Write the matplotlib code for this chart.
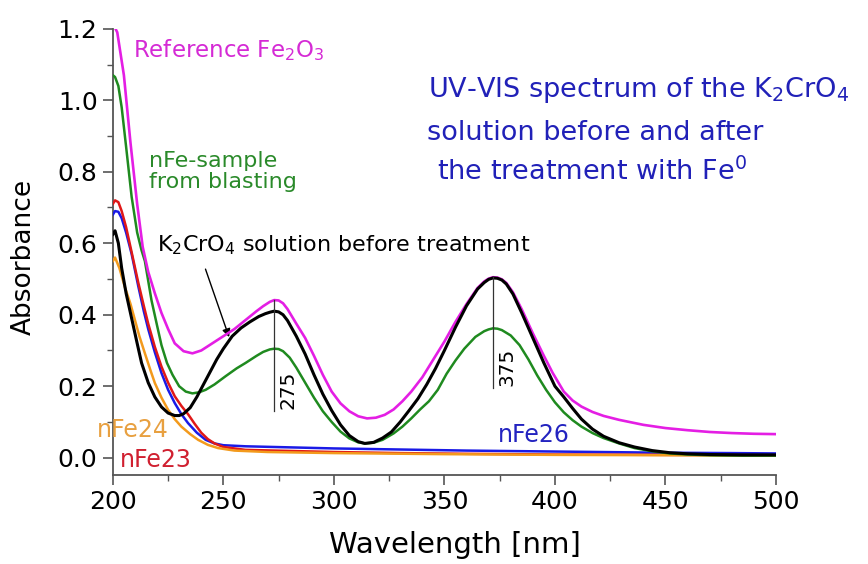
import matplotlib
matplotlib.use("Agg")
import matplotlib.pyplot as plt
from matplotlib.ticker import MultipleLocator

# ---------------- data ----------------
ref_wl = [200, 202, 205, 208, 211, 213.5, 216, 219, 222, 225, 228, 232, 236, 240, 245, 250, 255,
          260, 265, 268, 271, 273, 275, 277, 279, 283, 287, 291, 295, 299, 303, 307, 311, 315, 319,
          323, 327, 331, 335, 340, 345, 350, 355, 360, 365, 368, 370, 372, 374, 376, 378, 381, 385,
          390, 395, 399, 404, 408, 412, 417, 422, 429, 440, 450, 460, 470, 480, 490, 500]
ref_abs = [1.215, 1.19, 1.07, 0.88, 0.71, 0.59, 0.52, 0.46, 0.405, 0.36, 0.32, 0.298, 0.292, 0.30,
           0.32, 0.34, 0.36, 0.385, 0.41, 0.424, 0.436, 0.441, 0.440, 0.432, 0.416, 0.375, 0.335,
           0.285, 0.232, 0.185, 0.152, 0.13, 0.116, 0.11, 0.112, 0.12, 0.135, 0.158, 0.185, 0.225,
           0.275, 0.325, 0.38, 0.43, 0.475, 0.493, 0.501, 0.505, 0.504, 0.499, 0.489, 0.463, 0.415,
           0.348, 0.285, 0.237, 0.185, 0.16, 0.143, 0.128, 0.117, 0.106, 0.092, 0.083, 0.077,
           0.072, 0.069, 0.067, 0.066]

k2_wl = [200, 201, 202.5, 204, 206, 208.5, 211, 213, 216, 219, 222, 225, 228, 230, 232, 235, 238,
         241, 244, 247, 250, 254, 258, 262, 266, 269, 271, 273, 275, 277, 279, 283, 287, 291, 295,
         299, 303, 307, 311, 314, 318, 322, 326, 330, 334, 338, 342, 346, 350, 355, 360, 365, 368,
         370, 372, 374, 376, 378, 381, 385, 390, 395, 400, 404, 408, 412, 417, 422, 429, 436, 444,
         452, 460, 470, 485, 500]
k2_abs = [0.625, 0.635, 0.60, 0.53, 0.46, 0.39, 0.32, 0.265, 0.21, 0.17, 0.142, 0.125, 0.118, 0.118,
          0.123, 0.14, 0.17, 0.205, 0.24, 0.275, 0.305, 0.34, 0.363, 0.38, 0.395, 0.403, 0.407,
          0.41, 0.408, 0.400, 0.384, 0.34, 0.29, 0.232, 0.178, 0.132, 0.092, 0.062, 0.045, 0.04,
          0.043, 0.055, 0.072, 0.10, 0.132, 0.165, 0.205, 0.25, 0.30, 0.365, 0.425, 0.472, 0.490,
          0.499, 0.503, 0.502, 0.497, 0.486, 0.458, 0.405, 0.335, 0.265, 0.20, 0.17, 0.138, 0.108,
          0.08, 0.06, 0.042, 0.03, 0.02, 0.014, 0.011, 0.009, 0.008, 0.008]

blast_wl = [200, 201, 202.5, 204, 206, 208.5, 211, 213, 214.5, 217.5, 220, 222, 224.5, 227, 230,
            233, 236, 239, 242, 246, 251, 256, 260, 265, 268, 271, 273, 275, 277, 280, 283, 287,
            291, 295, 299, 303, 307, 311, 314, 318, 322, 327, 331, 335, 339, 343, 347, 351, 355,
            359, 364, 368, 370, 372, 374, 376, 380, 384, 388, 392, 396, 400, 404, 408, 412, 417,
            422, 429, 436, 444, 452, 460, 470, 485, 500]
blast_abs = [1.07, 1.065, 1.04, 0.98, 0.87, 0.73, 0.63, 0.58, 0.55, 0.44, 0.37, 0.315, 0.265, 0.232,
             0.20, 0.185, 0.18, 0.183, 0.19, 0.205, 0.228, 0.25, 0.265, 0.285, 0.296, 0.303, 0.305,
             0.304, 0.298, 0.280, 0.252, 0.21, 0.168, 0.13, 0.10, 0.073, 0.054, 0.043, 0.04, 0.042,
             0.05, 0.068, 0.087, 0.11, 0.135, 0.158, 0.19, 0.235, 0.272, 0.305, 0.338, 0.354, 0.359,
             0.362, 0.361, 0.357, 0.342, 0.315, 0.275, 0.23, 0.19, 0.155, 0.127, 0.105, 0.087,
             0.069, 0.055, 0.04, 0.027, 0.018, 0.012, 0.009, 0.007, 0.006, 0.006]

fe26_wl = [200, 201, 202.5, 204, 206, 208.5, 211.5, 214, 216, 219, 222, 225, 228, 231, 234, 238,
           242, 246, 250, 260, 280, 300, 330, 360, 390, 420, 450, 480, 500]
fe26_abs = [0.68, 0.69, 0.688, 0.67, 0.63, 0.57, 0.48, 0.41, 0.36, 0.295, 0.237, 0.19, 0.153, 0.122,
            0.097, 0.07, 0.05, 0.04, 0.035, 0.032, 0.029, 0.026, 0.023, 0.02, 0.018, 0.016, 0.014,
            0.013, 0.012]

fe23_wl = [200, 201, 202.5, 204, 206, 208.5, 211.5, 214, 216, 219, 222, 225, 228, 231, 234, 237,
           240, 243, 246, 250, 260, 280, 300, 330, 360, 400, 450, 500]
fe23_abs = [0.71, 0.72, 0.715, 0.69, 0.645, 0.575, 0.49, 0.425, 0.375, 0.31, 0.255, 0.21, 0.172,
            0.145, 0.122, 0.095, 0.07, 0.052, 0.04, 0.03, 0.022, 0.019, 0.016, 0.013, 0.011, 0.009,
            0.008, 0.007]

fe24_wl = [200, 201, 203, 205.4, 208, 210, 212, 214.5, 217, 219, 222, 225, 228, 231, 235, 238.6,
           243, 247.6, 255, 270, 300, 350, 400, 450, 500]
fe24_abs = [0.55, 0.56, 0.53, 0.478, 0.43, 0.385, 0.34, 0.292, 0.245, 0.209, 0.168, 0.134, 0.108,
            0.087, 0.066, 0.05, 0.036, 0.027, 0.02, 0.016, 0.013, 0.01, 0.008, 0.007, 0.006]

peak_wl = [273, 372]
peak_top = [0.441, 0.505]
peak_bottom = [0.13, 0.195]
peak_labels = ["275", "375"]

x_ticks = [200, 250, 300, 350, 400, 450, 500]
y_ticks = [0.0, 0.2, 0.4, 0.6, 0.8, 1.0, 1.2]

# ---------------- figure ----------------
fig = plt.figure(figsize=(8.68, 5.64), dpi=100)
ax = fig.add_axes([0.130, 0.158, 0.764, 0.791])

c_mag = "#e41ee4"
c_green = "#1f8a1f"
c_blue = "#1a1ae6"
c_red = "#e01818"
c_orange = "#f39a1c"

ax.plot(fe26_wl, fe26_abs, color=c_blue, lw=1.8, zorder=3)
ax.plot(fe23_wl, fe23_abs, color=c_red, lw=1.8, zorder=3)
ax.plot(fe24_wl, fe24_abs, color=c_orange, lw=1.8, zorder=3)
ax.plot(blast_wl, blast_abs, color=c_green, lw=1.8, zorder=4)
ax.plot(ref_wl, ref_abs, color=c_mag, lw=1.9, zorder=4)
ax.plot(k2_wl, k2_abs, color="black", lw=2.2, zorder=5)

for wl, top, bot, lab in zip(peak_wl, peak_top, peak_bottom, peak_labels):
    ax.plot([wl, wl], [bot, top], color="#333333", lw=0.9, zorder=6)
    ax.text(wl + 2.0, bot + 0.005, lab, rotation=90, ha="left", va="bottom",
            fontsize=14.5, color="black", zorder=7)

ax.set_xlim(200, 500)
ax.set_ylim(-0.048, 1.2)
ax.set_xticks(x_ticks)
ax.set_yticks(y_ticks)
ax.set_yticklabels([f"{v:.1f}" for v in y_ticks])
ax.xaxis.set_minor_locator(MultipleLocator(25))
ax.yaxis.set_minor_locator(MultipleLocator(0.1))

for s in ["top", "right"]:
    ax.spines[s].set_visible(False)
for s in ["left", "bottom"]:
    ax.spines[s].set_color("#555555")
    ax.spines[s].set_linewidth(1.3)
ax.tick_params(which="major", direction="out", length=7, width=1.2, color="#555555",
               labelsize=18, pad=4)
ax.tick_params(which="minor", direction="out", length=4, width=1.0, color="#555555")

ax.set_xlabel("Wavelength [nm]", fontsize=21)
ax.xaxis.set_label_coords(0.516, -0.125)
ax.set_ylabel("Absorbance", fontsize=19)
ax.yaxis.set_label_coords(-0.115, 0.489)

# annotations
ax.text(209, 1.14, r"Reference Fe$_2$O$_3$", color="#d52ad5", fontsize=16.5, va="center", ha="left")
ax.text(216.5, 0.80, "nFe-sample\nfrom blasting", color="#2a8a2a", fontsize=16,
        va="center", ha="left", linespacing=1.05)
ax.text(220, 0.595, r"K$_2$CrO$_4$ solution before treatment", color="black", fontsize=16,
        va="center", ha="left")
ax.annotate("", xy=(253, 0.33), xytext=(241.5, 0.535),
            arrowprops=dict(arrowstyle="-|>", color="black", lw=1.0, mutation_scale=12))
ax.text(374, 0.064, "nFe26", color="#2323c0", fontsize=17, va="center", ha="left")
ax.text(192.8, 0.078, "nFe24", color="#e8a040", fontsize=17, va="center", ha="left")
ax.text(203.2, -0.006, "nFe23", color="#d02030", fontsize=17, va="center", ha="left")

ax.text(342.5, 1.028, r"UV-VIS spectrum of the K$_2$CrO$_4$", color="#2121b8", fontsize=19.5,
        va="center", ha="left")
ax.text(342.3, 0.908, "solution before and after", color="#2121b8", fontsize=19.5,
        va="center", ha="left")
ax.text(346.5, 0.80, r"the treatment with Fe$^0$", color="#2121b8", fontsize=19.5,
        va="center", ha="left")

fig.savefig("out.png", dpi=100)
